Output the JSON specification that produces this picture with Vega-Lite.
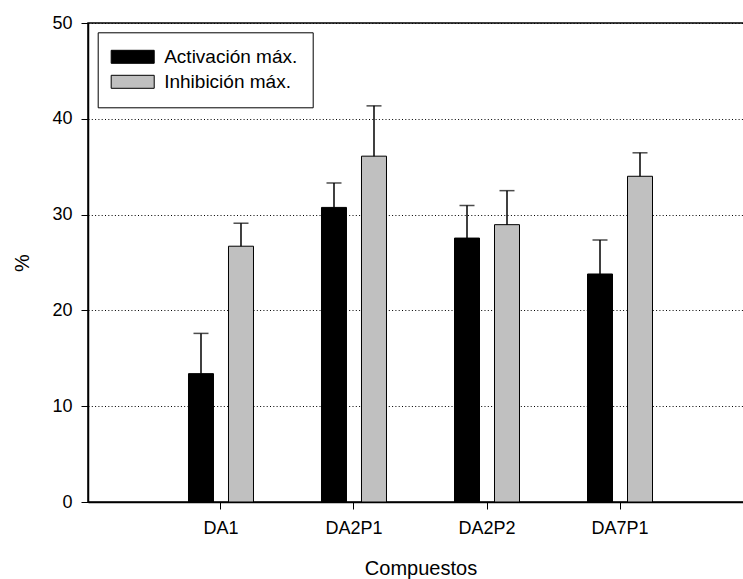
{
  "$schema": "https://vega.github.io/schema/vega-lite/v6.json",
  "autosize": {"type": "none"},
  "padding": {"left": 88, "top": 23, "right": 0, "bottom": 77},
  "width": 665,
  "height": 479,
  "background": "white",
  "config": {
    "font": "Liberation Sans",
    "view": {"stroke": "black", "strokeWidth": 1.5},
    "axis": {
      "domainColor": "black",
      "domainWidth": 1.5,
      "tickColor": "black",
      "tickWidth": 1,
      "tickSize": 7,
      "labelColor": "black",
      "titleColor": "black",
      "labelFont": "Liberation Sans",
      "titleFont": "Liberation Sans",
      "labelFontSize": 18,
      "titleFontSize": 20,
      "titleFontWeight": "normal"
    }
  },
  "data": {
    "values": [
      {"compuesto": "DA1", "medida": "Activación máx.", "valor": 13.4, "superior": 17.6},
      {"compuesto": "DA1", "medida": "Inhibición máx.", "valor": 26.7, "superior": 29.1},
      {"compuesto": "DA2P1", "medida": "Activación máx.", "valor": 30.75, "superior": 33.3},
      {"compuesto": "DA2P1", "medida": "Inhibición máx.", "valor": 36.1, "superior": 41.35},
      {"compuesto": "DA2P2", "medida": "Activación máx.", "valor": 27.55, "superior": 30.95},
      {"compuesto": "DA2P2", "medida": "Inhibición máx.", "valor": 28.95, "superior": 32.5},
      {"compuesto": "DA7P1", "medida": "Activación máx.", "valor": 23.8, "superior": 27.35},
      {"compuesto": "DA7P1", "medida": "Inhibición máx.", "valor": 34.0, "superior": 36.45}
    ]
  },
  "encoding": {
    "x": {
      "field": "compuesto",
      "type": "nominal",
      "sort": ["DA1", "DA2P1", "DA2P2", "DA7P1"],
      "scale": {"paddingInner": 0.5113, "paddingOuter": 0.7556},
      "axis": {
        "title": "Compuestos",
        "labelAngle": 0,
        "labelPadding": 10,
        "titlePadding": 21,
        "grid": false
      }
    },
    "xOffset": {
      "field": "medida",
      "type": "nominal",
      "sort": ["Activación máx.", "Inhibición máx."],
      "scale": {"paddingInner": 0.375, "paddingOuter": 0}
    }
  },
  "layer": [
    {
      "mark": {"type": "bar", "stroke": "black", "strokeWidth": 1},
      "encoding": {
        "y": {
          "field": "valor",
          "type": "quantitative",
          "scale": {"domain": [0, 50], "nice": false},
          "axis": {
            "title": "%",
            "values": [0, 10, 20, 30, 40, 50],
            "labelPadding": 9,
            "titlePadding": 19,
            "grid": true,
            "gridColor": "black",
            "gridWidth": 1,
            "gridDash": [1, 2.3]
          }
        },
        "color": {
          "field": "medida",
          "type": "nominal",
          "scale": {"domain": ["Activación máx.", "Inhibición máx."], "range": ["black", "#c0c0c0"]},
          "legend": {
            "title": null,
            "orient": "none",
            "legendX": 9.7,
            "legendY": 9.3,
            "padding": 15,
            "strokeColor": "black",
            "fillColor": "white",
            "symbolType": "M-3.31,-1H3.31V1H-3.31Z",
            "symbolSize": 169,
            "symbolStrokeColor": "black",
            "symbolStrokeWidth": 1,
            "symbolOpacity": 1,
            "symbolOffset": 10.5,
            "labelOffset": 22,
            "labelFont": "Liberation Sans",
            "labelFontSize": 19,
            "labelColor": "black",
            "rowPadding": 5,
            "labelLimit": 300
          }
        }
      }
    },
    {
      "mark": {"type": "rule", "color": "black", "strokeWidth": 1.5},
      "encoding": {
        "y": {"field": "valor", "type": "quantitative"},
        "y2": {"field": "superior"}
      }
    },
    {
      "mark": {"type": "tick", "color": "black", "thickness": 1.5, "size": 15, "orient": "horizontal"},
      "encoding": {
        "y": {"field": "superior", "type": "quantitative"}
      }
    }
  ]
}
